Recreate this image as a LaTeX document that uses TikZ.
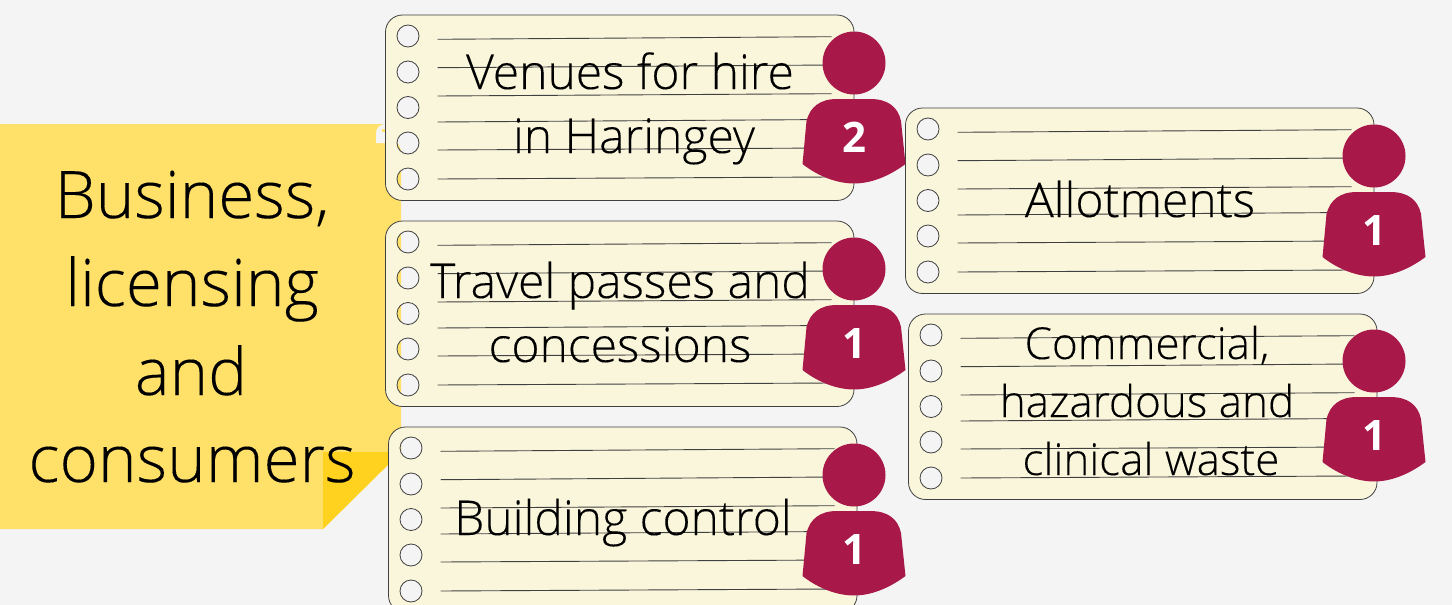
\documentclass[tikz,border=0pt]{standalone}
\usepackage{fontspec}
\setmainfont{Open Sans Light}[FakeBold=0.15]
\newfontfamily\numfont{Open Sans}[BoldFont={Open Sans Bold}]
\definecolor{pagebg}{HTML}{F4F4F4}
\definecolor{noteyellow}{HTML}{FFE169}
\definecolor{notefold}{HTML}{FFD21F}
\definecolor{cardfill}{HTML}{FAF6DC}
\definecolor{personred}{HTML}{A8194A}
\tikzset{
  x=1pt,y=-1pt,
  cardshape/.style={draw=black!75,line width=.8pt,fill=cardfill,even odd rule},
  ruleline/.style={draw=black!75,line width=.9pt},
  persona/.style={fill=personred,draw=none},
  cardtext/.style={font=\fontsize{48}{50}\selectfont,text=black,inner sep=0pt,anchor=base},
  smalltext/.style={font=\fontsize{44}{46}\selectfont,text=black,inner sep=0pt,anchor=base},
  bigtext/.style={font=\fontsize{65.5}{66}\selectfont,text=black,inner sep=0pt,anchor=base},
  numtext/.style={font=\numfont\bfseries\fontsize{42}{46}\selectfont,text=white,inner sep=0pt,anchor=center},
}
\newcommand{\notecard}[2]{%
  \begin{scope}[shift={(#1,#2)}]
    \path[cardshape] [rounded corners=17] (0,0) rectangle (468.5,185.5) [sharp corners]
      (22.5,21) circle[radius=11] (22.5,57) circle[radius=11] (22.5,92.5) circle[radius=11]
      (22.5,128) circle[radius=11] (22.5,164) circle[radius=11];
    \draw[ruleline] (52,24.3) -- (446,21.7);
    \draw[ruleline] (52,52.7) -- (446,50);
    \draw[ruleline] (52,81) -- (446,78.7);
    \draw[ruleline] (52,107) -- (446,104.5);
    \draw[ruleline] (52,135) -- (446,133);
    \draw[ruleline] (52,164) -- (446,162);
  \end{scope}}
\newcommand{\persona}[3]{%
  \begin{scope}[shift={(#1,#2)}]
    \path[persona] (0,0) circle[radius=31.5];
    \path[persona] (-17,36) -- (16,36)
      .. controls (34,36) and (44,44) .. (47,58)
      -- (51.5,101)
      .. controls (34,114) and (16,120.5) .. (0,120.5)
      .. controls (-16,120.5) and (-35,114) .. (-51.5,101)
      -- (-47.5,58)
      .. controls (-44,44) and (-34,36) .. (-17,36) -- cycle;
    \node[numtext] at (0,74.5) {#3};
  \end{scope}}
\begin{document}
\begin{tikzpicture}
\useasboundingbox (0,0) rectangle (1452,605);
\clip (0,0) rectangle (1452,605);
\fill[pagebg] (0,0) rectangle (1452,605);
% sticky note
\fill[noteyellow] (0,124) -- (401,124) -- (401,452) -- (323,529) -- (0,529) -- cycle;
\fill[notefold] (323,452) -- (401,452) -- (323,529) -- cycle;
\fill[pagebg] (376,143) -- (376,133) .. controls (376,128) and (380,124) .. (386,124) -- (402,124) -- (402,152) -- (398,143) -- cycle;
\fill[noteyellow] (382,129) rectangle (386,132);
\node[bigtext] (biz1) at (192,218) {Business,};
\node[bigtext] (biz2) at (192,306) {licensing};
\node[bigtext] (biz3) at (191,395) {and};
\node[bigtext] (biz4) at (192,482) {consumers};
% cards
\notecard{385.5}{15}
\notecard{385.5}{221}
\notecard{388.5}{427}
\notecard{905.5}{108}
\notecard{908.5}{314}
% card text
\node[cardtext] (t1a) at (630,89) {Venues for hire};
\node[cardtext] (t1b) at (634,153) {in Haringey};
\node[cardtext] (t2a) at (620,298) {Travel passes and};
\node[cardtext] (t2b) at (620,362) {concessions};
\node[cardtext] (t3) at (623,535) {Building control};
\node[cardtext] (t4) at (1140,217) {Allotments};
\node[smalltext] (t5a) at (1147,359) {Commercial,};
\node[smalltext] (t5b) at (1147,417) {hazardous and};
\node[smalltext] (t5c) at (1151,475) {clinical waste};
% persons
\persona{854}{63}{2}
\persona{854}{269}{1}
\persona{854}{475}{1}
\persona{1374}{156}{1}
\persona{1374}{361}{1}
\end{tikzpicture}
\end{document}
